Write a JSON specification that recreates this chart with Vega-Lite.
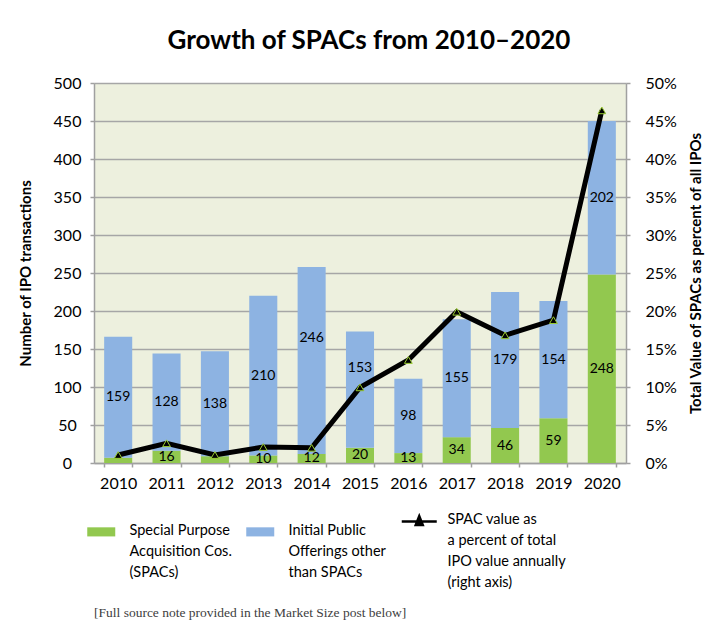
{
  "$schema": "https://vega.github.io/schema/vega-lite/v6.json",
  "width": 532,
  "height": 380,
  "autosize": "none",
  "padding": {"left": 94, "top": 83, "right": 101, "bottom": 168},
  "background": "white",
  "config": {
    "font": "Lato",
    "view": {"fill": "#edf0de", "stroke": null},
    "axis": {
      "labelFont": "Lato", "labelFontSize": 16, "labelColor": "#000", "labelOverlap": false,
      "titleFont": "Lato", "titleFontSize": 15, "titleFontWeight": "bold", "titleColor": "#000",
      "domainColor": "#a0a0a0", "tickColor": "#a0a0a0", "gridColor": "#a6a6a6",
      "domainWidth": 1.5, "tickWidth": 1.5, "gridWidth": 1.5
    }
  },
  "title": {"text": "Growth of SPACs from 2010–2020", "font": "Lato", "fontSize": 26, "fontWeight": "bold", "color": "#000", "anchor": "middle", "dx": 9, "offset": 21},
  "datasets": {
    "counts": [
      {"year": "2010", "series": "SPAC", "count": 7}, {"year": "2010", "series": "IPO", "count": 159},
      {"year": "2011", "series": "SPAC", "count": 16}, {"year": "2011", "series": "IPO", "count": 128},
      {"year": "2012", "series": "SPAC", "count": 9}, {"year": "2012", "series": "IPO", "count": 138},
      {"year": "2013", "series": "SPAC", "count": 10}, {"year": "2013", "series": "IPO", "count": 210},
      {"year": "2014", "series": "SPAC", "count": 12}, {"year": "2014", "series": "IPO", "count": 246},
      {"year": "2015", "series": "SPAC", "count": 20}, {"year": "2015", "series": "IPO", "count": 153},
      {"year": "2016", "series": "SPAC", "count": 13}, {"year": "2016", "series": "IPO", "count": 98},
      {"year": "2017", "series": "SPAC", "count": 34}, {"year": "2017", "series": "IPO", "count": 155},
      {"year": "2018", "series": "SPAC", "count": 46}, {"year": "2018", "series": "IPO", "count": 179},
      {"year": "2019", "series": "SPAC", "count": 59}, {"year": "2019", "series": "IPO", "count": 154},
      {"year": "2020", "series": "SPAC", "count": 248}, {"year": "2020", "series": "IPO", "count": 202}
    ],
    "pct": [
      {"year": "2010", "pct": 0.0105}, {"year": "2011", "pct": 0.026}, {"year": "2012", "pct": 0.0105},
      {"year": "2013", "pct": 0.021}, {"year": "2014", "pct": 0.020}, {"year": "2015", "pct": 0.0995},
      {"year": "2016", "pct": 0.1355}, {"year": "2017", "pct": 0.199}, {"year": "2018", "pct": 0.168},
      {"year": "2019", "pct": 0.188}, {"year": "2020", "pct": 0.464}
    ]
  },
  "layer": [
    {
      "data": {"name": "counts"},
      "transform": [
        {"stack": "count", "groupby": ["year"], "sort": [{"field": "series", "order": "descending"}], "as": ["y0", "y1"]},
        {"calculate": "(datum.y0 + datum.y1) / 2", "as": "mid"}
      ],
      "layer": [
        {
          "mark": {"type": "bar"},
          "encoding": {
            "x": {
              "field": "year", "type": "ordinal",
              "scale": {"paddingInner": 0.42, "paddingOuter": 0.21},
              "axis": {"title": null, "labelAngle": 0, "tickBand": "extent", "tickSize": 4, "labelPadding": 8}
            },
            "y": {
              "field": "y0", "type": "quantitative",
              "scale": {"domain": [0, 500]},
              "axis": {
                "title": "Number of IPO transactions",
                "values": [0, 50, 100, 150, 200, 250, 300, 350, 400, 450, 500],
                "tickSize": 4, "labelAlign": "center", "labelPadding": 23, "grid": true, "titlePadding": 20
              }
            },
            "y2": {"field": "y1"},
            "color": {
              "field": "series", "type": "nominal",
              "scale": {"domain": ["SPAC", "IPO", "Line"], "range": ["#92c84f", "#8db3e2", "#000000"]},
              "legend": {
                "title": "[Full source note provided in the Market Size post below]",
                "titleOrient": "bottom", "titleAnchor": "start", "titleFont": "Liberation Serif",
                "titleFontSize": 13.5, "titleFontWeight": "normal", "titleColor": "#404040",
                "titlePadding": 16, "titleLimit": 600,
                "orient": "bottom", "direction": "horizontal", "columns": 3,
                "symbolSize": 1225, "labelFont": "Lato", "labelFontSize": 14.5, "labelColor": "#000",
                "labelLimit": 300, "labelOffset": 21, "gridAlign": "all", "columnPadding": -11,
                "offset": 23, "labelBaseline": "top",
                "labelExpr": "datum.value == 'SPAC' ? ['Special Purpose', 'Acquisition Cos.', ' (SPACs)'] : datum.value == 'IPO' ? ['Initial Public', 'Offerings other', 'than SPACs'] : ['SPAC value as', 'a percent of total', 'IPO value annually', '(right axis)']",
                "encode": {
                  "symbols": {"update": {
                    "shape": {"signal": "datum.value == 'Line' ? 'M-1,0H1M-0.2,0.2L0,-0.3L0.2,0.2Z' : 'M-0.8,-0.26H0.8V0.26H-0.8Z'"},
                    "fill": {"signal": "datum.value == 'IPO' ? '#8db3e2' : '#92c84f'"},
                    "stroke": {"signal": "datum.value == 'Line' ? '#000000' : 'transparent'"},
                    "strokeWidth": {"signal": "datum.value == 'Line' ? 2.5 : 0"},
                    "opacity": {"value": 1}
                  }},
                  "labels": {"update": {"lineHeight": {"value": 21}, "dy": {"value": -8}}}
                }
              }
            }
          }
        },
        {
          "transform": [{"filter": "datum.count >= 10 && !(datum.series == 'IPO' && (datum.year == '2014' || datum.year == '2015'))"}],
          "mark": {"type": "text", "font": "Lato", "fontSize": 14, "color": "#000"},
          "encoding": {
            "x": {"field": "year", "type": "ordinal"},
            "y": {
              "field": "mid", "type": "quantitative",
              "axis": {
                "title": "Number of IPO transactions",
                "values": [0, 50, 100, 150, 200, 250, 300, 350, 400, 450, 500],
                "tickSize": 4, "labelAlign": "center", "labelPadding": 23, "grid": true, "titlePadding": 20
              }
            },
            "text": {"field": "count", "type": "quantitative"}
          }
        },
        {
          "transform": [{"filter": "datum.series == 'IPO' && (datum.year == '2014' || datum.year == '2015')"}],
          "mark": {"type": "text", "font": "Lato", "fontSize": 14, "color": "#000", "dy": -22},
          "encoding": {
            "x": {"field": "year", "type": "ordinal"},
            "y": {
              "field": "mid", "type": "quantitative",
              "axis": {
                "title": "Number of IPO transactions",
                "values": [0, 50, 100, 150, 200, 250, 300, 350, 400, 450, 500],
                "tickSize": 4, "labelAlign": "center", "labelPadding": 23, "grid": true, "titlePadding": 20
              }
            },
            "text": {"field": "count", "type": "quantitative"}
          }
        }
      ]
    },
    {
      "data": {"name": "pct"},
      "layer": [
        {
          "mark": {"type": "line", "strokeWidth": 5},
          "encoding": {
            "x": {"field": "year", "type": "ordinal"},
            "y": {
              "field": "pct", "type": "quantitative",
              "scale": {"domain": [0, 0.5]},
              "axis": {
                "orient": "right", "title": "Total Value of SPACs as percent of all IPOs", "format": ".0%",
                "values": [0, 0.05, 0.1, 0.15, 0.2, 0.25, 0.3, 0.35, 0.4, 0.45, 0.5],
                "tickSize": 4, "labelPadding": 15, "grid": false, "titlePadding": 12,
                "titleAngle": 270, "titleBaseline": "top"
              }
            },
            "color": {"datum": "Line"}
          }
        },
        {
          "mark": {"type": "point", "shape": "triangle-up", "filled": true, "fill": "#000000", "stroke": "#9acd32", "strokeWidth": 1, "size": 60, "opacity": 1},
          "encoding": {
            "x": {"field": "year", "type": "ordinal"},
            "y": {
              "field": "pct", "type": "quantitative",
              "axis": {
                "orient": "right", "title": "Total Value of SPACs as percent of all IPOs", "format": ".0%",
                "values": [0, 0.05, 0.1, 0.15, 0.2, 0.25, 0.3, 0.35, 0.4, 0.45, 0.5],
                "tickSize": 4, "labelPadding": 15, "grid": false, "titlePadding": 12,
                "titleAngle": 270, "titleBaseline": "top"
              }
            }
          }
        }
      ]
    }
  ],
  "resolve": {"scale": {"y": "independent"}}
}
